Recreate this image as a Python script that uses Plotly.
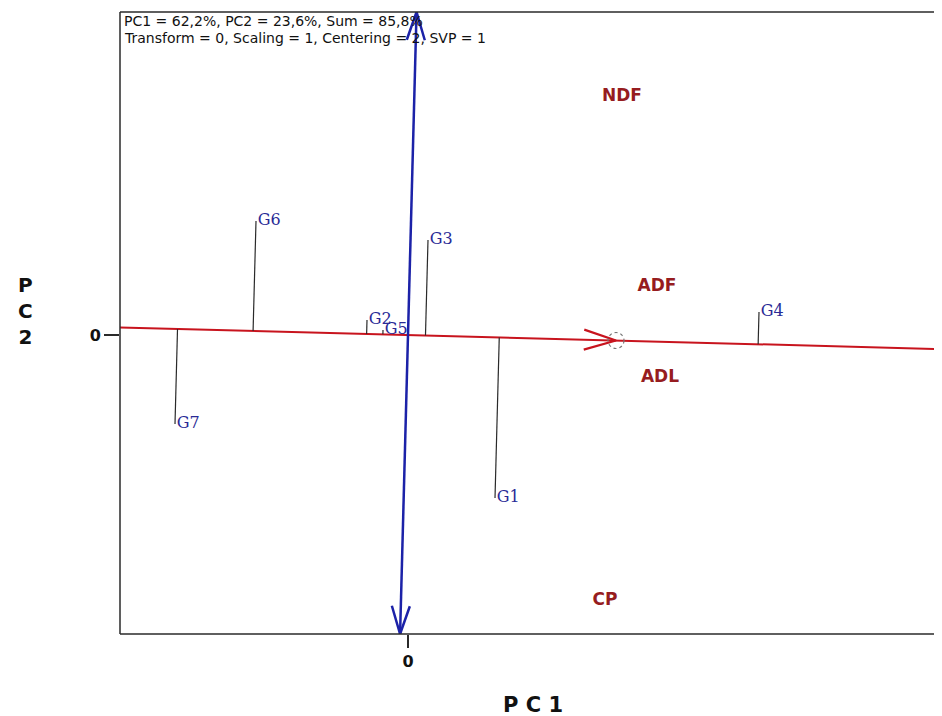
import numpy as np
import plotly.graph_objects as go

# ---------------- data ----------------
genotypes = ["G1", "G2", "G3", "G4", "G5", "G6", "G7"]
gen_pc1 = [0.87, -0.41, 0.20, 3.51, -0.25, -1.52, -2.33]
gen_pc2 = [-1.63, 0.15, 0.95, 0.23, 0.05, 1.14, -0.89]

environments = ["NDF", "ADF", "ADL", "CP"]
env_pc1 = [2.14, 2.49, 2.52, 1.97]
env_pc2 = [2.38, 0.48, -0.43, -2.66]

avg_env = [2.08, -0.055]  # average environment (AEA) coordinate

info_lines = [
    "PC1 = 62,2%, PC2 = 23,6%, Sum = 85,8%",
    "Transform = 0, Scaling = 1, Centering = 2, SVP = 1",
]
x_tick_vals = [0]
y_tick_vals = [0]

# ---------------- styling ----------------
X_RANGE = [-2.88, 5.34]
Y_RANGE = [-2.99, 3.23]
RED = "#c8141e"
BLUE = "#1c22a8"
GEN_COLOR = "#2a2a96"
ENV_COLOR = "#961c20"
FRAME = "#2a2a2a"

W, H = 934, 708          # page body adds an 8px margin
ML, MR, MT, MB = 112, 0, 4, 82
PW, PH = W - ML - MR, H - MT - MB

g = np.column_stack([gen_pc1, gen_pc2])
a = np.array(avg_env, dtype=float)
u = a / np.linalg.norm(a)          # ATC abscissa direction
v = np.array([-u[1], u[0]])        # ATC ordinate direction

fig = go.Figure()

# ATC abscissa (red), spanning the x range
slope = u[1] / u[0]
xs = np.array(X_RANGE)
fig.add_trace(go.Scatter(x=xs, y=slope * xs, mode="lines",
                         line=dict(color=RED, width=2), hoverinfo="skip", showlegend=False))


def chevron(tip, d, L, Wd):
    d = d / np.linalg.norm(d)
    p = np.array([-d[1], d[0]])
    base = tip - L * d
    pts = np.array([base + Wd * p, tip, base - Wd * p])
    return pts[:, 0], pts[:, 1]


cx, cy = chevron(a, u, 0.32, 0.10)
fig.add_trace(go.Scatter(x=cx, y=cy, mode="lines", line=dict(color=RED, width=2.2),
                         hoverinfo="skip", showlegend=False))

# projections of genotypes onto ATC abscissa
for i in range(len(genotypes)):
    proj = (g[i] @ u) * u
    fig.add_trace(go.Scatter(x=[g[i, 0], proj[0]], y=[g[i, 1], proj[1]], mode="lines",
                             line=dict(color=FRAME, width=1.2), hoverinfo="skip",
                             showlegend=False))

# ATC ordinate (blue), double headed
ys = np.array(Y_RANGE)
s = ys / v[1]
bx, by = s * v[0], s * v[1]
fig.add_trace(go.Scatter(x=bx, y=by, mode="lines", line=dict(color=BLUE, width=2.5),
                         hoverinfo="skip", showlegend=False))
top = np.array([bx[1], by[1]])
bot = np.array([bx[0], by[0]])
for tip, d in [(top, v), (bot, -v)]:
    hx, hy = chevron(tip, d, 0.28, 0.09)
    fig.add_trace(go.Scatter(x=hx, y=hy, mode="lines", line=dict(color=BLUE, width=2.5),
                             hoverinfo="skip", showlegend=False))

# genotype labels
fig.add_trace(go.Scatter(x=gen_pc1, y=gen_pc2, mode="markers+text", text=genotypes,
                         textposition="middle right",
                         marker=dict(size=1, color="rgba(0,0,0,0)"),
                         textfont=dict(family="DejaVu Serif", size=16, color=GEN_COLOR),
                         hoverinfo="text", showlegend=False))

# environment labels
fig.add_trace(go.Scatter(x=env_pc1, y=env_pc2, mode="text", text=environments,
                         textposition="middle center",
                         textfont=dict(family="DejaVu Sans", size=17, color=ENV_COLOR,
                                       weight="bold"),
                         hoverinfo="text", showlegend=False))

# dashed circle at average environment
r = 0.08
fig.add_shape(type="circle", xref="x", yref="y",
              x0=a[0] - r, x1=a[0] + r, y0=a[1] - r, y1=a[1] + r,
              line=dict(color="#777777", width=1.2, dash="dot"))

# frame (left, bottom, top)
for x0, y0, x1, y1 in [(0, 0, 0, 1), (0, 0, 1, 0), (0, 1, 1, 1)]:
    fig.add_shape(type="line", xref="paper", yref="paper", x0=x0, y0=y0, x1=x1, y1=y1,
                  line=dict(color=FRAME, width=1.5))

# info text
for k, line in enumerate(info_lines):
    fig.add_annotation(xref="paper", yref="paper", x=3 / PW, y=1 - (0 + 17 * k) / PH,
                       xanchor="left", yanchor="top", showarrow=False, text=line,
                       borderpad=0,
                       font=dict(family="DejaVu Sans", size=14, color="#111111"))

# axis titles
fig.add_annotation(xref="paper", yref="paper", x=(533 - 120) / PW, y=-71 / PH,
                   xanchor="center", yanchor="middle", showarrow=False, text="P C 1",
                   font=dict(family="DejaVu Sans", size=21, color="#111111", weight="bold"))
fig.add_annotation(xref="paper", yref="paper", x=(25 - 120) / PW, y=(634 - 311) / PH,
                   xanchor="center", yanchor="middle", showarrow=False,
                   text="P<br>C<br>2", align="center",
                   font=dict(family="DejaVu Sans", size=20, color="#111111", weight="bold"))

fig.update_xaxes(range=X_RANGE, showgrid=False, zeroline=False, showline=False,
                 tickmode="array", tickvals=x_tick_vals, ticks="outside", ticklen=13,
                 tickwidth=1.5, tickcolor=FRAME,
                 tickfont=dict(family="DejaVu Sans", size=16, color="#111111", weight="bold"))
fig.update_yaxes(range=Y_RANGE, showgrid=False, zeroline=False, showline=False,
                 tickmode="array", tickvals=y_tick_vals, ticks="outside", ticklen=15,
                 tickwidth=1.5, tickcolor=FRAME,
                 tickfont=dict(family="DejaVu Sans", size=16, color="#111111", weight="bold"))

fig.update_layout(width=W, height=H, margin=dict(l=ML, r=MR, t=MT, b=MB),
                  plot_bgcolor="white", paper_bgcolor="white", showlegend=False)

fig.write_html("out.html")
